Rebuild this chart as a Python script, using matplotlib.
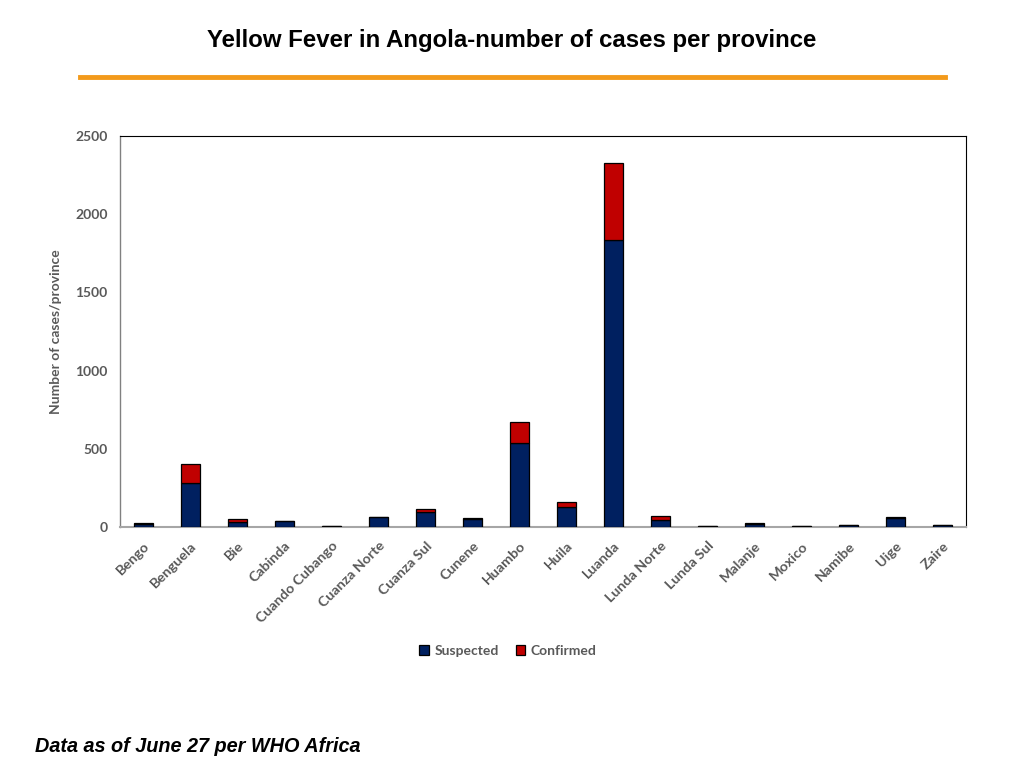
import numpy as np
import matplotlib.pyplot as plt
from matplotlib.lines import Line2D

# ========================
# data
# ========================
provinces = ["Bengo", "Benguela", "Bie", "Cabinda", "Cuando Cubango",
             "Cuanza Norte", "Cuanza Sul", "Cunene", "Huambo", "Huila",
             "Luanda", "Lunda Norte", "Lunda Sul", "Malanje", "Moxico",
             "Namibe", "Uige", "Zaire"]
suspected = [21, 283, 30, 37, 6, 62, 94, 54, 535, 130,
             1834, 45, 6, 20, 6, 12, 58, 13]
confirmed = [3, 118, 19, 3, 2, 4, 21, 4, 134, 32,
             494, 27, 2, 4, 2, 3, 6, 2]

NAVY = "#002060"
RED = "#C00000"
GREY = "#595959"

fig = plt.figure(figsize=(10.24, 7.68), dpi=100)

# title + orange rule
fig.text(0.5, 1 - 41 / 768, "Yellow Fever in Angola-number of cases per province",
         ha="center", va="center", fontsize=17.3, fontweight="bold",
         family=["Liberation Sans Narrow", "Liberation Sans", "DejaVu Sans"])
fig.add_artist(Line2D([80 / 1024, 945 / 1024], [1 - 77 / 768, 1 - 77 / 768],
                      color="#F39A1B", linewidth=3.5))

# ========================
# chart
# ========================
ax = fig.add_axes([120 / 1024, 1 - 527 / 768, 846 / 1024, 391 / 768])
x = np.arange(len(provinces))
ax.bar(x, suspected, width=0.42, color=NAVY, edgecolor="black",
       linewidth=0.9, label="Suspected", zorder=3)
ax.bar(x, confirmed, width=0.42, bottom=suspected, color=RED,
       edgecolor="black", linewidth=0.9, label="Confirmed", zorder=3)

ax.set_xlim(-0.5, len(provinces) - 0.5)
ax.set_ylim(0, 2500)
ax.set_yticks(np.arange(0, 2501, 500))
ax.set_xticks(x)
ax.set_xticklabels(provinces, rotation=45, ha="right", rotation_mode="anchor")
ax.tick_params(axis="x", length=0, colors=GREY, labelsize=10.3, pad=9)
ax.tick_params(axis="y", length=0, colors=GREY, labelsize=10, pad=9)
for lab in ax.get_xticklabels() + ax.get_yticklabels():
    lab.set_fontweight("bold")
    lab.set_family(["Lato", "DejaVu Sans"])
ax.set_ylabel("Number of cases/province", color=GREY, fontsize=10,
              fontweight="bold", family=["Lato", "DejaVu Sans"], labelpad=9)

for s in ["top", "right"]:
    ax.spines[s].set_color("black")
    ax.spines[s].set_linewidth(0.8)
ax.spines["left"].set_color("#808080")
ax.spines["left"].set_linewidth(1.0)
ax.spines["bottom"].set_color("#A6A6A6")
ax.spines["bottom"].set_linewidth(1.5)

leg = fig.legend(loc="center", bbox_to_anchor=(508 / 1024, 1 - 651 / 768),
                 ncol=2, frameon=False, handlelength=0.7, handleheight=0.7,
                 handletextpad=0.4, columnspacing=1.2,
                 prop={"family": ["Lato", "DejaVu Sans"], "weight": "bold",
                       "size": 10})
for t in leg.get_texts():
    t.set_color(GREY)

# footer
fig.text(35 / 1024, 1 - 746 / 768, "Data as of June 27 per WHO Africa",
         ha="left", va="center", fontsize=14.3, fontweight="bold",
         style="italic", family=["Liberation Sans", "DejaVu Sans"])

plt.savefig("out.png", dpi=100)
